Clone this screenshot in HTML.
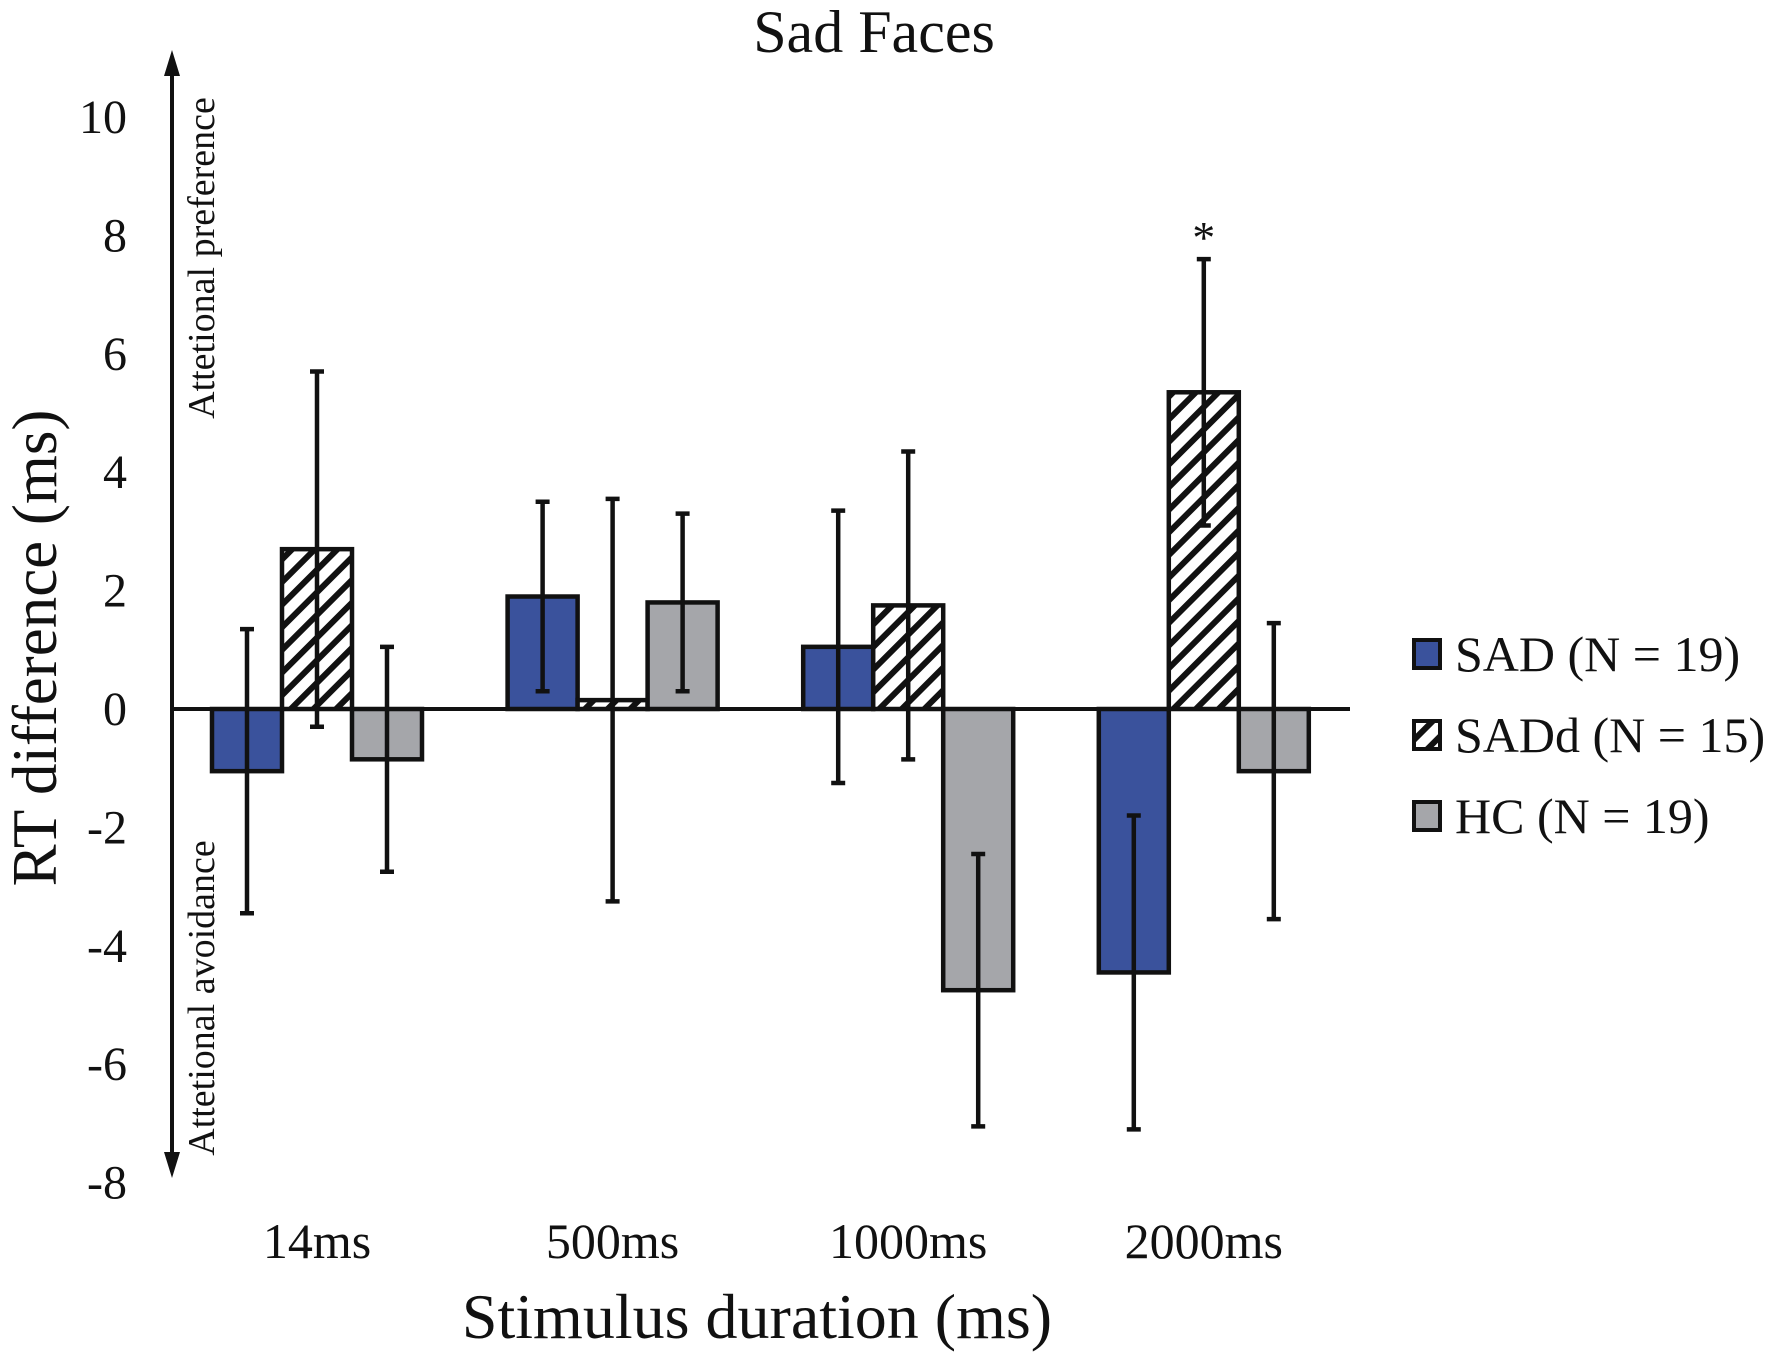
<!DOCTYPE html>
<html><head><meta charset="utf-8"><style>
body{margin:0;background:#fff}
svg text{font-family:"Liberation Serif",serif;fill:#111}
</style></head><body>
<svg width="1772" height="1358" viewBox="0 0 1772 1358">
<defs>
<pattern id="hatch" patternUnits="userSpaceOnUse" width="16" height="16" patternTransform="rotate(45)">
<rect width="16" height="16" fill="#fff"/><rect width="6" height="16" fill="#111"/>
</pattern>
</defs>
<g id="chart"></g>
</svg>
<script>
const categories=["14ms","500ms","1000ms","2000ms"];
const seriesNames=["SAD (N = 19)","SADd (N = 15)","HC (N = 19)"];
const sadValues=[-1.05,1.9,1.05,-4.45];
const saddValues=[2.7,0.15,1.75,5.35];
const hcValues=[-0.85,1.8,-4.75,-1.05];
const sadErr=[2.4,1.6,2.3,2.65];
const saddErr=[3.0,3.4,2.6,2.25];
const hcErr=[1.9,1.5,2.3,2.5];
const yTicks=[10,8,6,4,2,0,-2,-4,-6,-8];

const NS="http://www.w3.org/2000/svg";
const g=document.getElementById('chart');
function el(t,a,txt){const e=document.createElementNS(NS,t);for(const k in a)e.setAttribute(k,a[k]);if(txt!==undefined)e.textContent=txt;g.appendChild(e);return e;}
function y(v){return 709-v*59.2;}
function xc(i){return 317+i*295.6;}
const bw=70;
const fills=["#3a529c","url(#hatch)","#a5a6aa"];
const vals=[sadValues,saddValues,hcValues];
const errs=[sadErr,saddErr,hcErr];

let e=el('text',{x:874,y:52,'font-size':60,'text-anchor':'middle'},'Sad Faces');



yTicks.forEach(t=>{
 const tx=el('text',{x:127,y:y(t)+16,'font-size':48,'text-anchor':'end'},String(t));
 
 
});

categories.forEach((c,i)=>{
 for(let s=0;s<3;s++){
  const v=vals[s][i];
  const x0=xc(i)+(s-1.5)*bw;
  const r=el('rect',{x:x0,y:Math.min(y(v),y(0)),width:bw,height:Math.abs(y(v)-y(0)),fill:fills[s],stroke:'#111','stroke-width':4.5});
  
  
 }
 for(let s=0;s<3;s++){
  const v=vals[s][i],er=errs[s][i];
  const cx=xc(i)+(s-1)*bw;
  const eb=el('path',{d:`M${cx},${y(v+er)}V${y(v-er)}M${cx-7},${y(v+er)}H${cx+7}M${cx-7},${y(v-er)}H${cx+7}`,stroke:'#111','stroke-width':4.5,fill:'none'});
  
  
 }
 const lb=el('text',{x:xc(i),y:1258,'font-size':50,'text-anchor':'middle'},c);
 
 
});

e=el('text',{x:xc(3),y:y(saddValues[3]+saddErr[3])-6,'font-size':46,'text-anchor':'middle'},'*');



e=el('line',{x1:172,y1:y(0),x2:1350,y2:y(0),stroke:'#111','stroke-width':4});


e=el('line',{x1:172,y1:62,x2:172,y2:1166,stroke:'#111','stroke-width':4});


e=el('path',{d:'M172,50 L164,76 L180,76Z M172,1178 L164,1152 L180,1152Z',fill:'#111'});



e=el('text',{x:0,y:0,'font-size':38,'text-anchor':'middle',transform:'translate(214,258) rotate(-90)'},'Attetional preference');


e=el('text',{x:0,y:0,'font-size':38,'text-anchor':'middle',transform:'translate(214,998) rotate(-90)'},'Attetional avoidance');



e=el('text',{x:0,y:0,'font-size':63,'text-anchor':'middle',transform:'translate(56,648) rotate(-90)'},'RT difference (ms)');


e=el('text',{x:757,y:1338,'font-size':64,'text-anchor':'middle'},'Stimulus duration (ms)');



seriesNames.forEach((n,s)=>{
 const ly=654+s*81;
 const sq=el('rect',{x:1414,y:ly-14,width:26,height:28,fill:fills[s],stroke:'#111','stroke-width':4});
 
 
 const t=el('text',{x:1455,y:ly+17,'font-size':50},n);
 
 
});
</script>
</body></html>
